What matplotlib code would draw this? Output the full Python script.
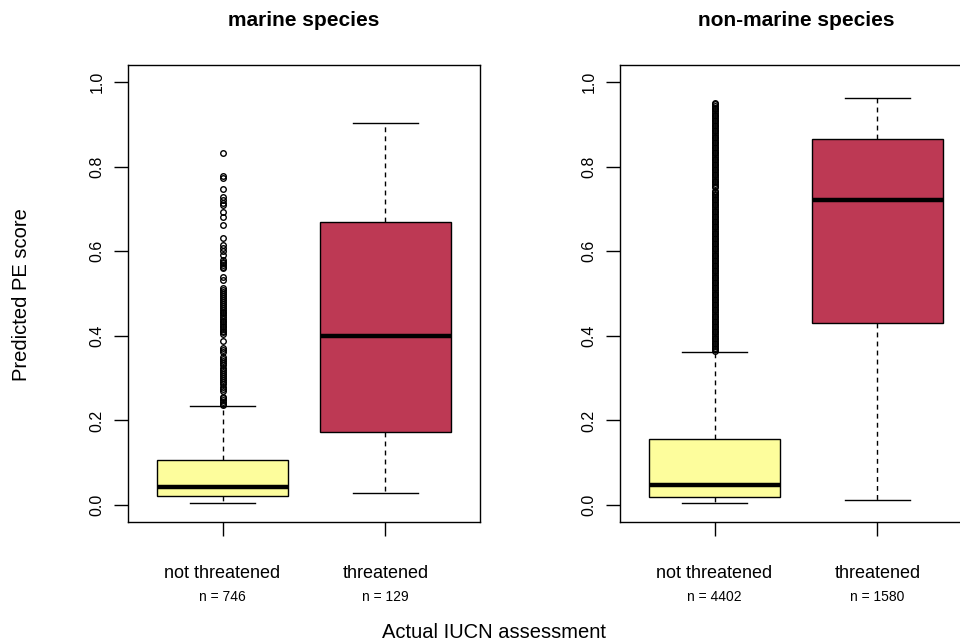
import matplotlib
matplotlib.use("Agg")
import matplotlib.pyplot as plt

plt.rcParams['font.family'] = ['Liberation Sans', 'DejaVu Sans']

# --- datos ---
panels = ["marine species", "non-marine species"]
groups = ["not threatened", "threatened"]
n_labels = [["n = 746", "n = 129"], ["n = 4402", "n = 1580"]]

# (whislo, q1, med, q3, whishi) por panel y grupo
marine_stats = [[0.006, 0.021, 0.042, 0.106, 0.234],
                [0.029, 0.172, 0.400, 0.668, 0.903]]
nonmarine_stats = [[0.006, 0.019, 0.047, 0.155, 0.361],
                   [0.012, 0.431, 0.720, 0.866, 0.963]]

marine_outliers = [0.832, 0.777, 0.773, 0.748, 0.728, 0.722, 0.715, 0.708,
                   0.692, 0.681, 0.661, 0.631, 0.614, 0.608, 0.600, 0.591,
                   0.579, 0.575, 0.571, 0.567, 0.563, 0.560, 0.540, 0.532,
                   0.513, 0.508, 0.504, 0.499, 0.494, 0.489, 0.484, 0.480,
                   0.476, 0.471, 0.466, 0.462, 0.457, 0.453, 0.449, 0.444,
                   0.440, 0.436, 0.432, 0.428, 0.424, 0.420, 0.416, 0.412,
                   0.408, 0.404, 0.388, 0.372, 0.367, 0.362, 0.350, 0.345,
                   0.340, 0.335, 0.330, 0.325, 0.320, 0.315, 0.310, 0.305,
                   0.300, 0.295, 0.290, 0.285, 0.280, 0.275, 0.270, 0.256,
                   0.252, 0.248, 0.244, 0.240, 0.237]

nonmarine_outliers = [
    0.364, 0.368, 0.372, 0.376, 0.380, 0.384, 0.388, 0.392, 0.396, 0.400,
    0.404, 0.408, 0.412, 0.416, 0.420, 0.424, 0.428, 0.432, 0.436, 0.440,
    0.444, 0.448, 0.452, 0.456, 0.460, 0.464, 0.468, 0.472, 0.476, 0.480,
    0.484, 0.488, 0.492, 0.496, 0.500, 0.504, 0.508, 0.512, 0.516, 0.520,
    0.524, 0.528, 0.532, 0.536, 0.540, 0.544, 0.548, 0.552, 0.556, 0.560,
    0.564, 0.568, 0.572, 0.576, 0.580, 0.584, 0.588, 0.592, 0.596, 0.600,
    0.604, 0.608, 0.612, 0.616, 0.620, 0.624, 0.628, 0.632, 0.636, 0.640,
    0.644, 0.648, 0.652, 0.656, 0.660, 0.664, 0.668, 0.672, 0.676, 0.680,
    0.684, 0.688, 0.692, 0.696, 0.700, 0.704, 0.708, 0.712, 0.716, 0.720,
    0.724, 0.728, 0.732, 0.736, 0.740, 0.743,
    0.751, 0.755, 0.759, 0.763, 0.767, 0.771, 0.775, 0.779, 0.783, 0.787,
    0.791, 0.795, 0.799, 0.803, 0.807, 0.811, 0.815, 0.819, 0.823, 0.827,
    0.831, 0.835, 0.839, 0.843, 0.847, 0.851, 0.855, 0.859, 0.863, 0.867,
    0.871, 0.875, 0.879, 0.883, 0.887, 0.891, 0.895, 0.899, 0.903, 0.907,
    0.911, 0.915, 0.919, 0.923, 0.927, 0.931, 0.935, 0.939, 0.943, 0.947,
    0.951]

all_stats = [marine_stats, nonmarine_stats]
all_outliers = [[marine_outliers, []], [nonmarine_outliers, []]]
box_colors = ["#FDFD9C", "#BD3954"]

fig = plt.figure(figsize=(9.6, 6.41), dpi=100)
ax_lefts = [128/960, 620/960]

for p in range(2):
    ax = fig.add_axes([ax_lefts[p], 119/641, 352/960, 457/641])
    stats = []
    for g in range(2):
        lo, q1, med, q3, hi = all_stats[p][g]
        stats.append(dict(whislo=lo, q1=q1, med=med, q3=q3, whishi=hi,
                          fliers=all_outliers[p][g], label=groups[g]))
    res = ax.bxp(stats, positions=[1, 2], widths=0.8, patch_artist=True,
                 showfliers=True,
                 boxprops=dict(edgecolor='black', linewidth=1.0),
                 medianprops=dict(color='black', linewidth=3.2, solid_capstyle='butt'),
                 whiskerprops=dict(color='black', linewidth=1.0, linestyle=(0, (3.5, 3))),
                 capprops=dict(color='black', linewidth=1.0),
                 capwidths=0.4,
                 flierprops=dict(marker='o', markersize=4.0, markerfacecolor='none',
                                 markeredgecolor='black', markeredgewidth=1.0,
                                 linestyle='none'))
    for patch, c in zip(res['boxes'], box_colors):
        patch.set_facecolor(c)

    ax.set_xlim(0.42, 2.58)
    ax.set_ylim(-0.04, 1.04)
    ax.set_yticks([0.0, 0.2, 0.4, 0.6, 0.8, 1.0])
    ax.set_yticklabels(["0.0", "0.2", "0.4", "0.6", "0.8", "1.0"],
                       rotation=90, va='center', fontsize=11.5)
    ax.set_xticks([1, 2])
    ax.set_xticklabels([])
    ax.tick_params(axis='both', length=10, width=1.0, pad=7)
    for s in ax.spines.values():
        s.set_linewidth(1.0)

    for g in range(2):
        ax.text(g + 1, -0.1116, groups[g], transform=ax.get_xaxis_transform(),
                ha='center', va='center', fontsize=13)
        ax.text(g + 1, -0.164, n_labels[p][g], transform=ax.get_xaxis_transform(),
                ha='center', va='center', fontsize=10)

    ax.text(0.5, 1.098, panels[p], transform=ax.transAxes, ha='center',
            va='center', fontsize=15, fontweight='bold')

fig.text(22/960, 0.54, "Predicted PE score", rotation=90, ha='center',
         va='center', fontsize=14.5)
fig.text(494/960, 0.0125, "Actual IUCN assessment", ha='center',
         va='center', fontsize=14.5)

fig.savefig("out.png", dpi=100)
